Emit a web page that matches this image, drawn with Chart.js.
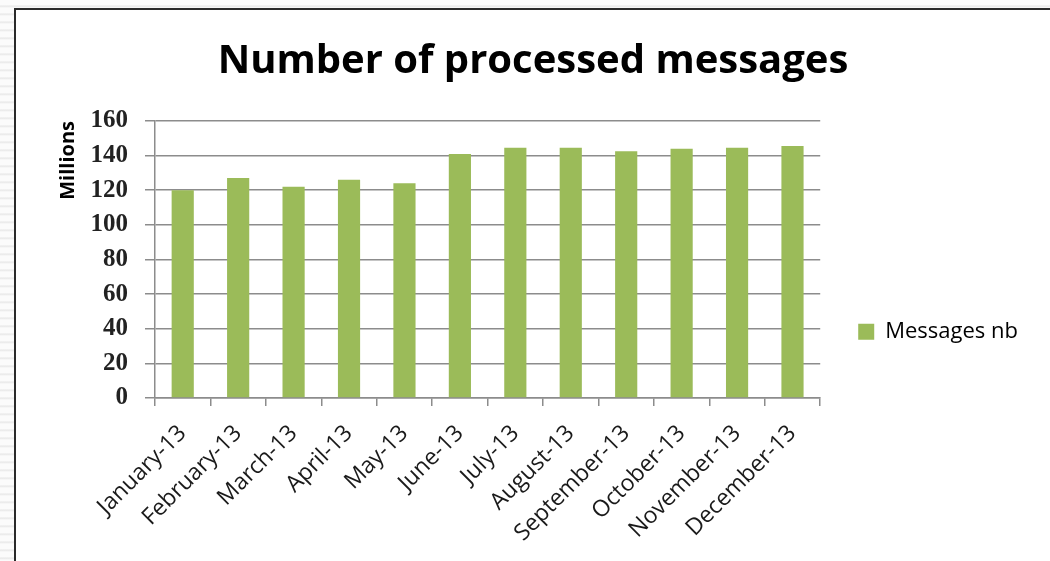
<!DOCTYPE html>
<html>
<head>
<meta charset="utf-8">
<script src="https://cdn.jsdelivr.net/npm/chart.js@4"></script>
<style>
  html, body { margin: 0; padding: 0; }
  body {
    width: 1050px; height: 561px; overflow: hidden; position: relative;
    background: #f7f7f7;
    background-image: repeating-linear-gradient(180deg, #fbfbfb 0px, #fbfbfb 5px, #e6e6e6 6px, #fbfbfb 8px);
  }
  #frame {
    position: absolute; left: 14px; top: 8px; width: 1050px; height: 570px;
    background: #fff; border: 2px solid #2a2a2a; box-sizing: border-box;
  }
  #myChart { position: absolute; left: 16px; top: 10px; }
</style>
</head>
<body>
<div id="frame"></div>
<canvas id="myChart" width="1034" height="551"></canvas>
<script>
"use strict"

// Monthly totals, in millions
const months = ['January-13', 'February-13', 'March-13', 'April-13', 'May-13', 'June-13',
    'July-13', 'August-13', 'September-13', 'October-13', 'November-13', 'December-13'];
const messages = [120, 127, 122, 126, 124, 141, 144.5, 144.5, 142.5, 144, 144.5, 145.5];

// Y axis range
const yMin = 0,
    yMax = 160,
    yStep = 20;

const sans = '"Open Sans", Lato, sans-serif';

const ctx = document.getElementById('myChart').getContext('2d');

const myChart = new Chart(ctx, {
    type: 'bar',
    data: {
        labels: months,
        datasets: [
            {
                label: 'Messages nb',
                data: messages,
                backgroundColor: '#9BBB59',
                borderWidth: 0,
                barPercentage: 0.4,
                categoryPercentage: 1,
            }
        ],
    },
    options: {
        responsive: false,
        animation: false,
        devicePixelRatio: 1,
        layout: {
            padding: { left: 22, right: 22, top: 0, bottom: 0 }
        },
        plugins: {
            title: {
                display: true,
                text: 'Number of processed messages',
                color: '#000',
                font: { family: sans, size: 40, weight: 'bold' },
                padding: { top: 28, bottom: 35 },
            },
            legend: {
                display: true,
                position: 'right',
                // empty title just pushes the item lower in the legend column
                title: {
                    display: true,
                    text: '',
                    padding: { top: 0, bottom: 78 },
                },
                labels: {
                    color: '#000',
                    font: { family: sans, size: 22 },
                    boxWidth: 16,
                    boxHeight: 16,
                    padding: 38,
                },
            },
            tooltip: { enabled: false },
        },
        scales: {
            x: {
                grid: {
                    drawOnChartArea: false,
                    drawTicks: true,
                    tickLength: 8,
                    color: '#8c8c8c',
                    lineWidth: 1.5,
                },
                border: { color: '#8c8c8c', width: 1.5 },
                ticks: {
                    minRotation: 45,
                    maxRotation: 45,
                    color: '#1a1a1a',
                    font: { family: sans, size: 23 },
                    padding: 14,
                },
            },
            y: {
                min: yMin,
                max: yMax,
                afterFit: (scale) => { scale.width = 117; },
                ticks: {
                    stepSize: yStep,
                    color: '#222',
                    font: { family: '"Liberation Serif", serif', size: 25, weight: 'bold' },
                    padding: 17,
                },
                grid: {
                    color: '#8c8c8c',
                    lineWidth: 1.5,
                    tickLength: 10,
                },
                border: { color: '#8c8c8c', width: 1.5 },
                title: {
                    display: true,
                    text: 'Millions',
                    align: 'end',
                    color: '#000',
                    font: { family: sans, size: 20, weight: 'bold' },
                    padding: { top: 18, bottom: 0 },
                },
            }
        }
    }
});
</script>
</body>
</html>
